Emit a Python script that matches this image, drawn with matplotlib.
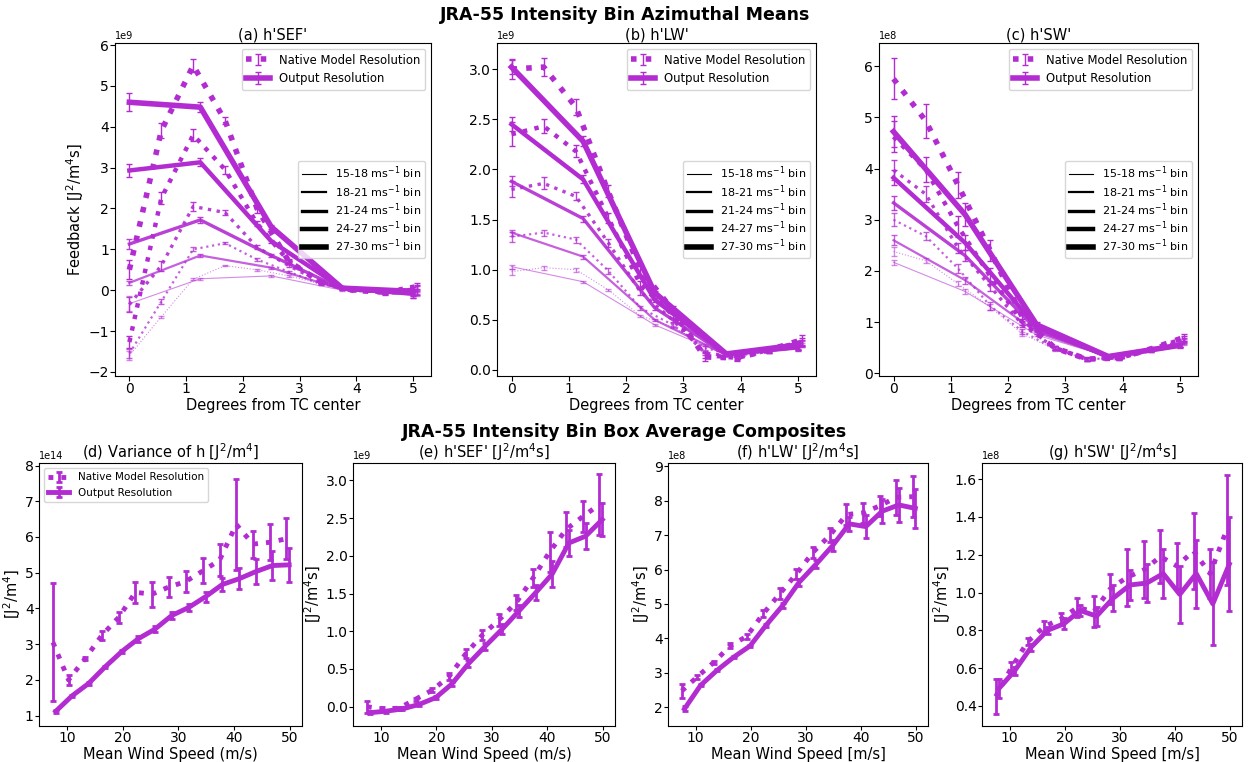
import numpy as np
import matplotlib.pyplot as plt
from matplotlib.lines import Line2D

purple = "#b22cd2"

# ---- top row: azimuthal means, 5 intensity bins ----
x_native = [0.0, 0.5625, 1.125, 1.6875, 2.25, 2.8125, 3.375, 3.9375, 4.5, 5.0625]
x_output = [0.0, 1.25, 2.5, 3.75, 5.0]
bin_labels = ["15-18 ms$^{-1}$ bin", "18-21 ms$^{-1}$ bin", "21-24 ms$^{-1}$ bin",
              "24-27 ms$^{-1}$ bin", "27-30 ms$^{-1}$ bin"]

# (a) h'SEF'  [1e9]
sef_nat = [
    [-1.6, -0.65, 0.27, 0.6, 0.5, 0.35, 0.15, 0.0, -0.05, -0.1],
    [-1.55, -0.28, 1.0, 1.15, 0.75, 0.45, 0.15, 0.0, -0.05, -0.05],
    [-0.35, 0.6, 2.05, 1.9, 1.05, 0.6, 0.2, 0.0, -0.05, 0.05],
    [-1.27, 2.25, 3.8, 2.95, 1.63, 0.7, 0.2, 0.0, -0.05, 0.1],
    [0.5, 3.9, 5.5, 4.15, 2.0, 0.7, 0.2, 0.0, -0.05, 0.0],
]
sef_nat_err = [
    [0.1, 0.03, 0.03, 0.02, 0.02, 0.02, 0.02, 0.02, 0.03, 0.05],
    [0.1, 0.06, 0.05, 0.03, 0.03, 0.02, 0.02, 0.02, 0.03, 0.05],
    [0.18, 0.12, 0.1, 0.07, 0.05, 0.03, 0.03, 0.02, 0.04, 0.06],
    [0.15, 0.15, 0.15, 0.1, 0.07, 0.05, 0.03, 0.03, 0.05, 0.08],
    [0.23, 0.18, 0.15, 0.08, 0.1, 0.06, 0.04, 0.03, 0.06, 0.12],
]
sef_out = [
    [-0.33, 0.28, 0.35, 0.0, -0.1],
    [0.18, 0.85, 0.55, 0.02, -0.05],
    [1.13, 1.72, 0.85, 0.03, -0.1],
    [2.93, 3.13, 1.2, 0.05, -0.08],
    [4.6, 4.48, 1.55, 0.05, -0.03],
]
sef_out_err = [
    [0.18, 0.03, 0.02, 0.02, 0.05],
    [0.05, 0.04, 0.02, 0.02, 0.06],
    [0.12, 0.08, 0.03, 0.02, 0.08],
    [0.15, 0.1, 0.04, 0.03, 0.1],
    [0.22, 0.12, 0.05, 0.03, 0.12],
]

# (b) h'LW'  [1e9]
lw_nat = [
    [0.98, 1.02, 1.0, 0.8, 0.54, 0.43, 0.25, 0.15, 0.19, 0.25],
    [1.33, 1.37, 1.3, 0.99, 0.62, 0.45, 0.22, 0.14, 0.19, 0.26],
    [1.8, 1.86, 1.73, 1.27, 0.78, 0.5, 0.17, 0.13, 0.19, 0.27],
    [2.35, 2.43, 2.18, 1.52, 0.85, 0.55, 0.15, 0.12, 0.2, 0.28],
    [3.0, 3.02, 2.62, 1.78, 1.0, 0.6, 0.13, 0.12, 0.2, 0.3],
]
lw_nat_err = [
    [0.03, 0.02, 0.02, 0.01, 0.01, 0.01, 0.01, 0.01, 0.01, 0.02],
    [0.05, 0.03, 0.03, 0.03, 0.02, 0.02, 0.02, 0.02, 0.02, 0.03],
    [0.08, 0.06, 0.04, 0.04, 0.03, 0.02, 0.02, 0.02, 0.02, 0.03],
    [0.12, 0.07, 0.06, 0.05, 0.04, 0.03, 0.03, 0.02, 0.02, 0.04],
    [0.1, 0.09, 0.08, 0.06, 0.05, 0.04, 0.04, 0.03, 0.03, 0.05],
]
lw_out = [
    [1.03, 0.88, 0.45, 0.15, 0.22],
    [1.37, 1.13, 0.5, 0.15, 0.22],
    [1.88, 1.51, 0.62, 0.15, 0.22],
    [2.45, 1.9, 0.7, 0.16, 0.23],
    [3.02, 2.28, 0.77, 0.16, 0.25],
]
lw_out_err = [
    [0.02, 0.01, 0.01, 0.01, 0.02],
    [0.03, 0.02, 0.01, 0.01, 0.02],
    [0.05, 0.03, 0.02, 0.01, 0.03],
    [0.07, 0.04, 0.02, 0.02, 0.03],
    [0.07, 0.05, 0.02, 0.02, 0.04],
]

# (c) h'SW'  [1e8]
sw_nat = [
    [2.38, 2.2, 1.75, 1.3, 0.77, 0.47, 0.28, 0.3, 0.45, 0.6],
    [3.0, 2.68, 2.05, 1.32, 0.82, 0.48, 0.28, 0.3, 0.45, 0.62],
    [3.97, 3.5, 2.45, 1.7, 0.95, 0.5, 0.28, 0.3, 0.45, 0.65],
    [4.62, 3.98, 2.87, 1.9, 1.0, 0.5, 0.28, 0.3, 0.47, 0.68],
    [5.75, 4.93, 3.68, 2.4, 1.1, 0.5, 0.28, 0.3, 0.48, 0.7],
]
sw_nat_err = [
    [0.08, 0.05, 0.05, 0.06, 0.04, 0.03, 0.02, 0.02, 0.03, 0.04],
    [0.13, 0.08, 0.08, 0.08, 0.05, 0.03, 0.02, 0.02, 0.03, 0.05],
    [0.2, 0.15, 0.1, 0.1, 0.05, 0.03, 0.03, 0.02, 0.03, 0.05],
    [0.3, 0.25, 0.2, 0.15, 0.06, 0.04, 0.03, 0.03, 0.04, 0.06],
    [0.4, 0.33, 0.25, 0.2, 0.08, 0.04, 0.04, 0.03, 0.04, 0.07],
]
sw_out = [
    [2.17, 1.6, 0.75, 0.33, 0.55],
    [2.6, 1.82, 0.8, 0.33, 0.55],
    [3.33, 2.3, 0.85, 0.33, 0.55],
    [3.82, 2.55, 0.9, 0.33, 0.55],
    [4.72, 3.1, 0.95, 0.33, 0.55],
]
sw_out_err = [
    [0.05, 0.04, 0.02, 0.02, 0.03],
    [0.1, 0.07, 0.03, 0.02, 0.03],
    [0.14, 0.1, 0.04, 0.02, 0.04],
    [0.15, 0.15, 0.05, 0.03, 0.04],
    [0.3, 0.22, 0.06, 0.03, 0.05],
]

# ---- bottom row: box average composites vs mean wind speed ----
ws_nat = [7.5, 10.3, 13.3, 16.3, 19.3, 22.3, 25.3, 28.3, 31.3, 34.4, 37.4, 40.4, 43.4, 46.4, 49.4]
ws_out = [8.0, 10.9, 13.9, 16.9, 19.9, 22.8, 25.8, 28.8, 31.9, 34.9, 37.9, 40.9, 43.9, 46.9, 49.9]

var_nat = [3.05, 2.0, 2.6, 3.25, 3.75, 4.45, 4.4, 4.6, 4.75, 5.05, 5.35, 6.35, 5.8, 5.85, 5.95]
var_nat_err = [1.65, 0.15, 0.05, 0.12, 0.15, 0.3, 0.35, 0.28, 0.3, 0.35, 0.45, 1.27, 0.38, 0.5, 0.57]
var_out = [1.12, 1.55, 1.9, 2.37, 2.8, 3.15, 3.42, 3.8, 4.03, 4.33, 4.67, 4.83, 5.03, 5.2, 5.22]
var_out_err = [0.04, 0.03, 0.03, 0.03, 0.04, 0.08, 0.08, 0.1, 0.1, 0.14, 0.18, 0.3, 0.35, 0.4, 0.47]

bsef_nat = [0.0, -0.03, -0.02, 0.1, 0.22, 0.4, 0.7, 0.95, 1.15, 1.38, 1.7, 2.05, 2.35, 2.52, 2.68]
bsef_nat_err = [0.08, 0.03, 0.02, 0.02, 0.03, 0.04, 0.06, 0.07, 0.08, 0.1, 0.12, 0.27, 0.23, 0.2, 0.4]
bsef_out = [-0.08, -0.06, -0.03, 0.03, 0.12, 0.3, 0.57, 0.8, 1.03, 1.27, 1.51, 1.76, 2.17, 2.26, 2.48]
bsef_out_err = [0.02, 0.02, 0.02, 0.02, 0.02, 0.03, 0.05, 0.05, 0.06, 0.08, 0.1, 0.17, 0.17, 0.17, 0.22]

blw_nat = [2.47, 2.88, 3.3, 3.78, 4.06, 4.72, 5.3, 5.87, 6.5, 7.0, 7.6, 7.65, 7.85, 8.1, 8.12]
blw_nat_err = [0.2, 0.05, 0.05, 0.07, 0.08, 0.1, 0.15, 0.15, 0.17, 0.2, 0.3, 0.3, 0.3, 0.5, 0.6]
blw_out = [1.95, 2.63, 3.07, 3.45, 3.78, 4.38, 4.95, 5.63, 6.16, 6.7, 7.33, 7.25, 7.7, 7.88, 7.78]
blw_out_err = [0.07, 0.03, 0.03, 0.03, 0.04, 0.05, 0.08, 0.1, 0.12, 0.15, 0.2, 0.33, 0.35, 0.5, 0.57]

bsw_nat = [0.45, 0.6, 0.74, 0.82, 0.86, 0.92, 0.9, 1.02, 1.08, 1.12, 1.19, 1.14, 1.22, 1.1, 1.33]
bsw_nat_err = [0.09, 0.03, 0.02, 0.03, 0.03, 0.05, 0.08, 0.08, 0.15, 0.15, 0.14, 0.12, 0.2, 0.13, 0.29]
bsw_out = [0.49, 0.585, 0.71, 0.8, 0.835, 0.905, 0.875, 0.97, 1.04, 1.05, 1.1, 0.99, 1.1, 0.94, 1.15]
bsw_out_err = [0.05, 0.02, 0.02, 0.02, 0.03, 0.03, 0.05, 0.07, 0.08, 0.1, 0.13, 0.15, 0.18, 0.22, 0.25]

line_widths = [0.8, 1.6, 2.4, 3.2, 4.0]
alphas = [0.55, 0.75, 0.9, 1.0, 1.0]

W, H = 1250, 762
fig = plt.figure(figsize=(12.5, 7.62), dpi=100)


def rect(left, right, top, bottom):
    return [left / W, 1 - bottom / H, (right - left) / W, (bottom - top) / H]


fig.text(0.5, 1 - 15 / H, "JRA-55 Intensity Bin Azimuthal Means", ha="center", va="center",
         fontsize=12.5, fontweight="bold")
fig.text(0.5, 1 - 432 / H, "JRA-55 Intensity Bin Box Average Composites", ha="center", va="center",
         fontsize=12.5, fontweight="bold")

top_panels = [
    ("(a) h'SEF'", sef_nat, sef_nat_err, sef_out, sef_out_err, 1e9, (-2.1, 6.05), (115, 431)),
    ("(b) h'LW'", lw_nat, lw_nat_err, lw_out, lw_out_err, 1e9, (-0.06, 3.26), (497, 816)),
    ("(c) h'SW'", sw_nat, sw_nat_err, sw_out, sw_out_err, 1e8, (-0.05, 6.45), (879, 1198)),
]

for k, (title, nat, nat_err, out, out_err, scale, ylim, xs) in enumerate(top_panels):
    ax = fig.add_axes(rect(xs[0], xs[1], 43, 376))
    for i in range(5):
        en = ax.errorbar(x_native, np.array(nat[i]) * scale, yerr=np.array(nat_err[i]) * scale,
                         color=purple, ls=":", lw=line_widths[i], elinewidth=1, capsize=2.5,
                         alpha=alphas[i])
        eo = ax.errorbar(x_output, np.array(out[i]) * scale, yerr=np.array(out_err[i]) * scale,
                         color=purple, ls="-", lw=line_widths[i], elinewidth=1, capsize=2.5,
                         alpha=alphas[i])
    ax.set_ylim(ylim[0] * scale, ylim[1] * scale)
    ax.set_xticks([0, 1, 2, 3, 4, 5])
    ax.set_title(title, fontsize=10.5, pad=1.5)
    ax.set_xlabel("Degrees from TC center", fontsize=10.5, labelpad=1.5)
    if k == 0:
        ax.set_ylabel("Feedback [J$^2$/m$^4$s]", fontsize=10.5, labelpad=1.5)
    ax.tick_params(labelsize=10, length=3.5, pad=0.8)
    ax.yaxis.get_offset_text().set_fontsize(7)
    leg1 = ax.legend([en, eo], ["Native Model Resolution", "Output Resolution"],
                     loc="upper right", fontsize=8.4)
    ax.add_artist(leg1)
    handles = [Line2D([], [], color="black", lw=w) for w in line_widths]
    ax.legend(handles, bin_labels, loc="center right", fontsize=8,
              labelspacing=0.15, borderpad=0.35, handlelength=2.2)

bottom_panels = [
    ("(d) Variance of h [J$^2$/m$^4$]", var_nat, var_nat_err, var_out, var_out_err, 1e14,
     (0.71, 8.07), "[J$^2$/m$^4$]", "Mean Wind Speed (m/s)", (39, 302)),
    ("(e) h'SEF' [J$^2$/m$^4$s]", bsef_nat, bsef_nat_err, bsef_out, bsef_out_err, 1e9,
     (-0.256, 3.23), "[J$^2$/m$^4$s]", "Mean Wind Speed (m/s)", (353, 615)),
    ("(f) h'LW' [J$^2$/m$^4$s]", blw_nat, blw_nat_err, blw_out, blw_out_err, 1e8,
     (1.45, 9.1), "[J$^2$/m$^4$s]", "Mean Wind Speed [m/s]", (668, 928)),
    ("(g) h'SW' [J$^2$/m$^4$s]", bsw_nat, bsw_nat_err, bsw_out, bsw_out_err, 1e8,
     (0.294, 1.685), "[J$^2$/m$^4$s]", "Mean Wind Speed [m/s]", (982, 1242)),
]

for k, (title, nat, nat_err, out, out_err, scale, ylim, ylab, xlab, xs) in enumerate(bottom_panels):
    ax = fig.add_axes(rect(xs[0], xs[1], 463, 726))
    en = ax.errorbar(ws_nat, np.array(nat) * scale, yerr=np.array(nat_err) * scale,
                     color=purple, ls=":", lw=3.5, elinewidth=2, capsize=2, capthick=2)
    eo = ax.errorbar(ws_out, np.array(out) * scale, yerr=np.array(out_err) * scale,
                     color=purple, ls="-", lw=3.5, elinewidth=2, capsize=2, capthick=2)
    ax.set_xlim(5.0, 52.2)
    ax.set_ylim(ylim[0] * scale, ylim[1] * scale)
    ax.set_xticks([10, 20, 30, 40, 50])
    ax.set_title(title, fontsize=10.5, pad=2)
    ax.set_xlabel(xlab, fontsize=10.5, labelpad=1)
    ax.set_ylabel(ylab, fontsize=10.5, labelpad=1)
    ax.tick_params(labelsize=10, length=3, pad=0.8)
    ax.yaxis.get_offset_text().set_fontsize(7)
    if k == 0:
        ax.legend([en, eo], ["Native Model Resolution", "Output Resolution"],
                  loc="upper left", fontsize=7.5)

fig.savefig("out.png", dpi=100)
